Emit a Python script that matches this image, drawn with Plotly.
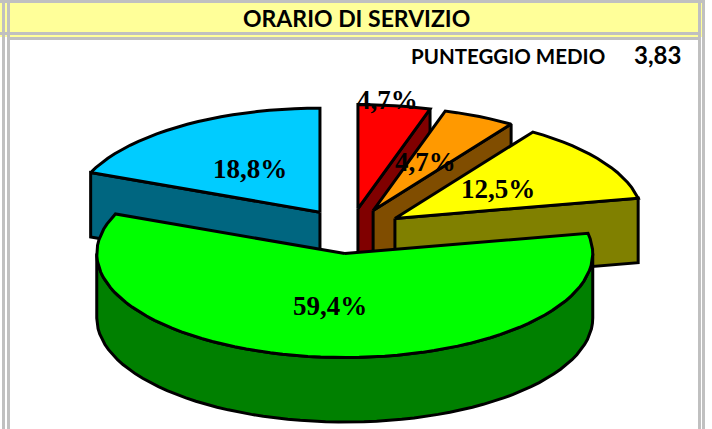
import math
import plotly.graph_objects as go

# --- data ---
slice_names = ["Rosso", "Arancione", "Giallo", "Verde", "Azzurro"]
shares = [4.7, 4.7, 12.5, 59.4, 18.8]
title_text = "ORARIO DI SERVIZIO"
score_label = "PUNTEGGIO MEDIO"
score_value = "3,83"

# --- style ---
top_colors = ["#FF0000", "#FF9900", "#FFFF00", "#00FF00", "#00CCFF"]
side_colors = ["#800000", "#804D00", "#808000", "#008000", "#006680"]
label_xy = [(387, 100), (425, 162), (498, 189), (330, 306), (250, 169)]
draw_order = [4, 0, 1, 2, 3]

GREY = "#C0C0C0"
CELL = "#FFFF99"
W, H = 712, 429
CX, CY, RX, RY, DEPTH, EXPLODE = 350, 231, 248, 104, 64.5, 54
LW = 3


def project(ax, ay, deg, radius=1.0):
    a = math.radians(deg)
    return ax + RX * radius * math.sin(a), ay - RY * radius * math.cos(a)


total = sum(shares)
edges = [0.0]
for s in shares:
    edges.append(edges[-1] + s / total * 360)


def arc(a1, a2, n=120):
    steps = max(2, int(abs(a2 - a1) / 360 * n) + 2)
    return [a1 + (a2 - a1) * i / (steps - 1) for i in range(steps)]


fig = go.Figure()


def poly(pts, fill):
    xs = [p[0] for p in pts] + [pts[0][0]]
    ys = [p[1] for p in pts] + [pts[0][1]]
    fig.add_trace(go.Scatter(x=xs, y=ys, mode="lines", fill="toself", fillcolor=fill,
                             line=dict(color="black", width=LW), hoverinfo="skip",
                             showlegend=False))


for i in draw_order:
    a1, a2 = edges[i], edges[i + 1]
    mid = math.radians((a1 + a2) / 2)
    ax = CX + EXPLODE * math.sin(mid)
    ay = CY - EXPLODE * RY / RX * math.cos(mid)
    # radial side faces that look towards the viewer
    if math.cos(math.radians(a1 - 90)) < -1e-6:
        p = project(ax, ay, a1)
        poly([(ax, ay), p, (p[0], p[1] + DEPTH), (ax, ay + DEPTH)], side_colors[i])
    if math.cos(math.radians(a2 + 90)) < -1e-6:
        p = project(ax, ay, a2)
        poly([(ax, ay), p, (p[0], p[1] + DEPTH), (ax, ay + DEPTH)], side_colors[i])
    # outer rim, front part only
    lo, hi = max(a1, 90), min(a2, 270)
    if hi > lo:
        rim = [project(ax, ay, t) for t in arc(lo, hi)]
        poly(rim + [(x, y + DEPTH) for x, y in reversed(rim)], side_colors[i])
    # top face
    poly([(ax, ay)] + [project(ax, ay, t) for t in arc(a1, a2)], top_colors[i])

annotations = [
    dict(x=x, y=y, xref="x", yref="y", text=f"<b>{str(v).replace('.', ',')}%</b>", showarrow=False,
         font=dict(family="Liberation Serif", size=27, color="black"), xanchor="center", yanchor="middle")
    for v, (x, y) in zip(shares, label_xy)
]
annotations += [
    dict(x=356, y=18, xref="x", yref="y", text=f"<b>{title_text}</b>", showarrow=False,
         font=dict(family="Lato", size=23, color="black"), xanchor="center", yanchor="middle"),
    dict(x=507.5, y=56, xref="x", yref="y", text=f"<b>{score_label}</b>", showarrow=False,
         font=dict(family="Lato", size=20.5, color="black"), xanchor="center", yanchor="middle"),
    dict(x=657, y=54, xref="x", yref="y", text=f"<b>{score_value}</b>", showarrow=False,
         font=dict(family="Lato", size=24, color="black"), xanchor="center", yanchor="middle"),
]


def rect(x0, y0, x1, y1, color):
    return dict(type="rect", xref="x", yref="y", x0=x0, y0=y0, x1=x1, y1=y1,
                fillcolor=color, line=dict(width=0), layer="below")


shapes = [
    rect(0, 0, W, 37, CELL),              # header band
    rect(0, 0, W, 3, GREY),               # top rule
    rect(2, 0, 5, H, GREY),               # outer left rule
    rect(7, 0, 10, H, GREY),              # inner left rule
    rect(0, 32, 701, 35, GREY),           # below title
    rect(0, 37, 701, 40, GREY),           # above body
    rect(698, 0, 701, H, GREY),           # inner right rule
    rect(702, 0, 705, H, GREY),           # outer right rule
    rect(705, 0, W, H, "white"),
    rect(0, 37, 2, H, "white"),
    rect(5, 37, 7, H, "white"),
]

fig.update_layout(
    width=W, height=H, margin=dict(l=0, r=0, t=0, b=0),
    paper_bgcolor="white", plot_bgcolor="rgba(0,0,0,0)", showlegend=False,
    xaxis=dict(range=[0, W], visible=False, fixedrange=True),
    yaxis=dict(range=[H, 0], visible=False, fixedrange=True),
    annotations=annotations, shapes=shapes,
)
fig.write_html("out.html", config={"displayModeBar": False},
               post_script="document.body.style.margin='0';document.body.style.overflow='hidden';")
